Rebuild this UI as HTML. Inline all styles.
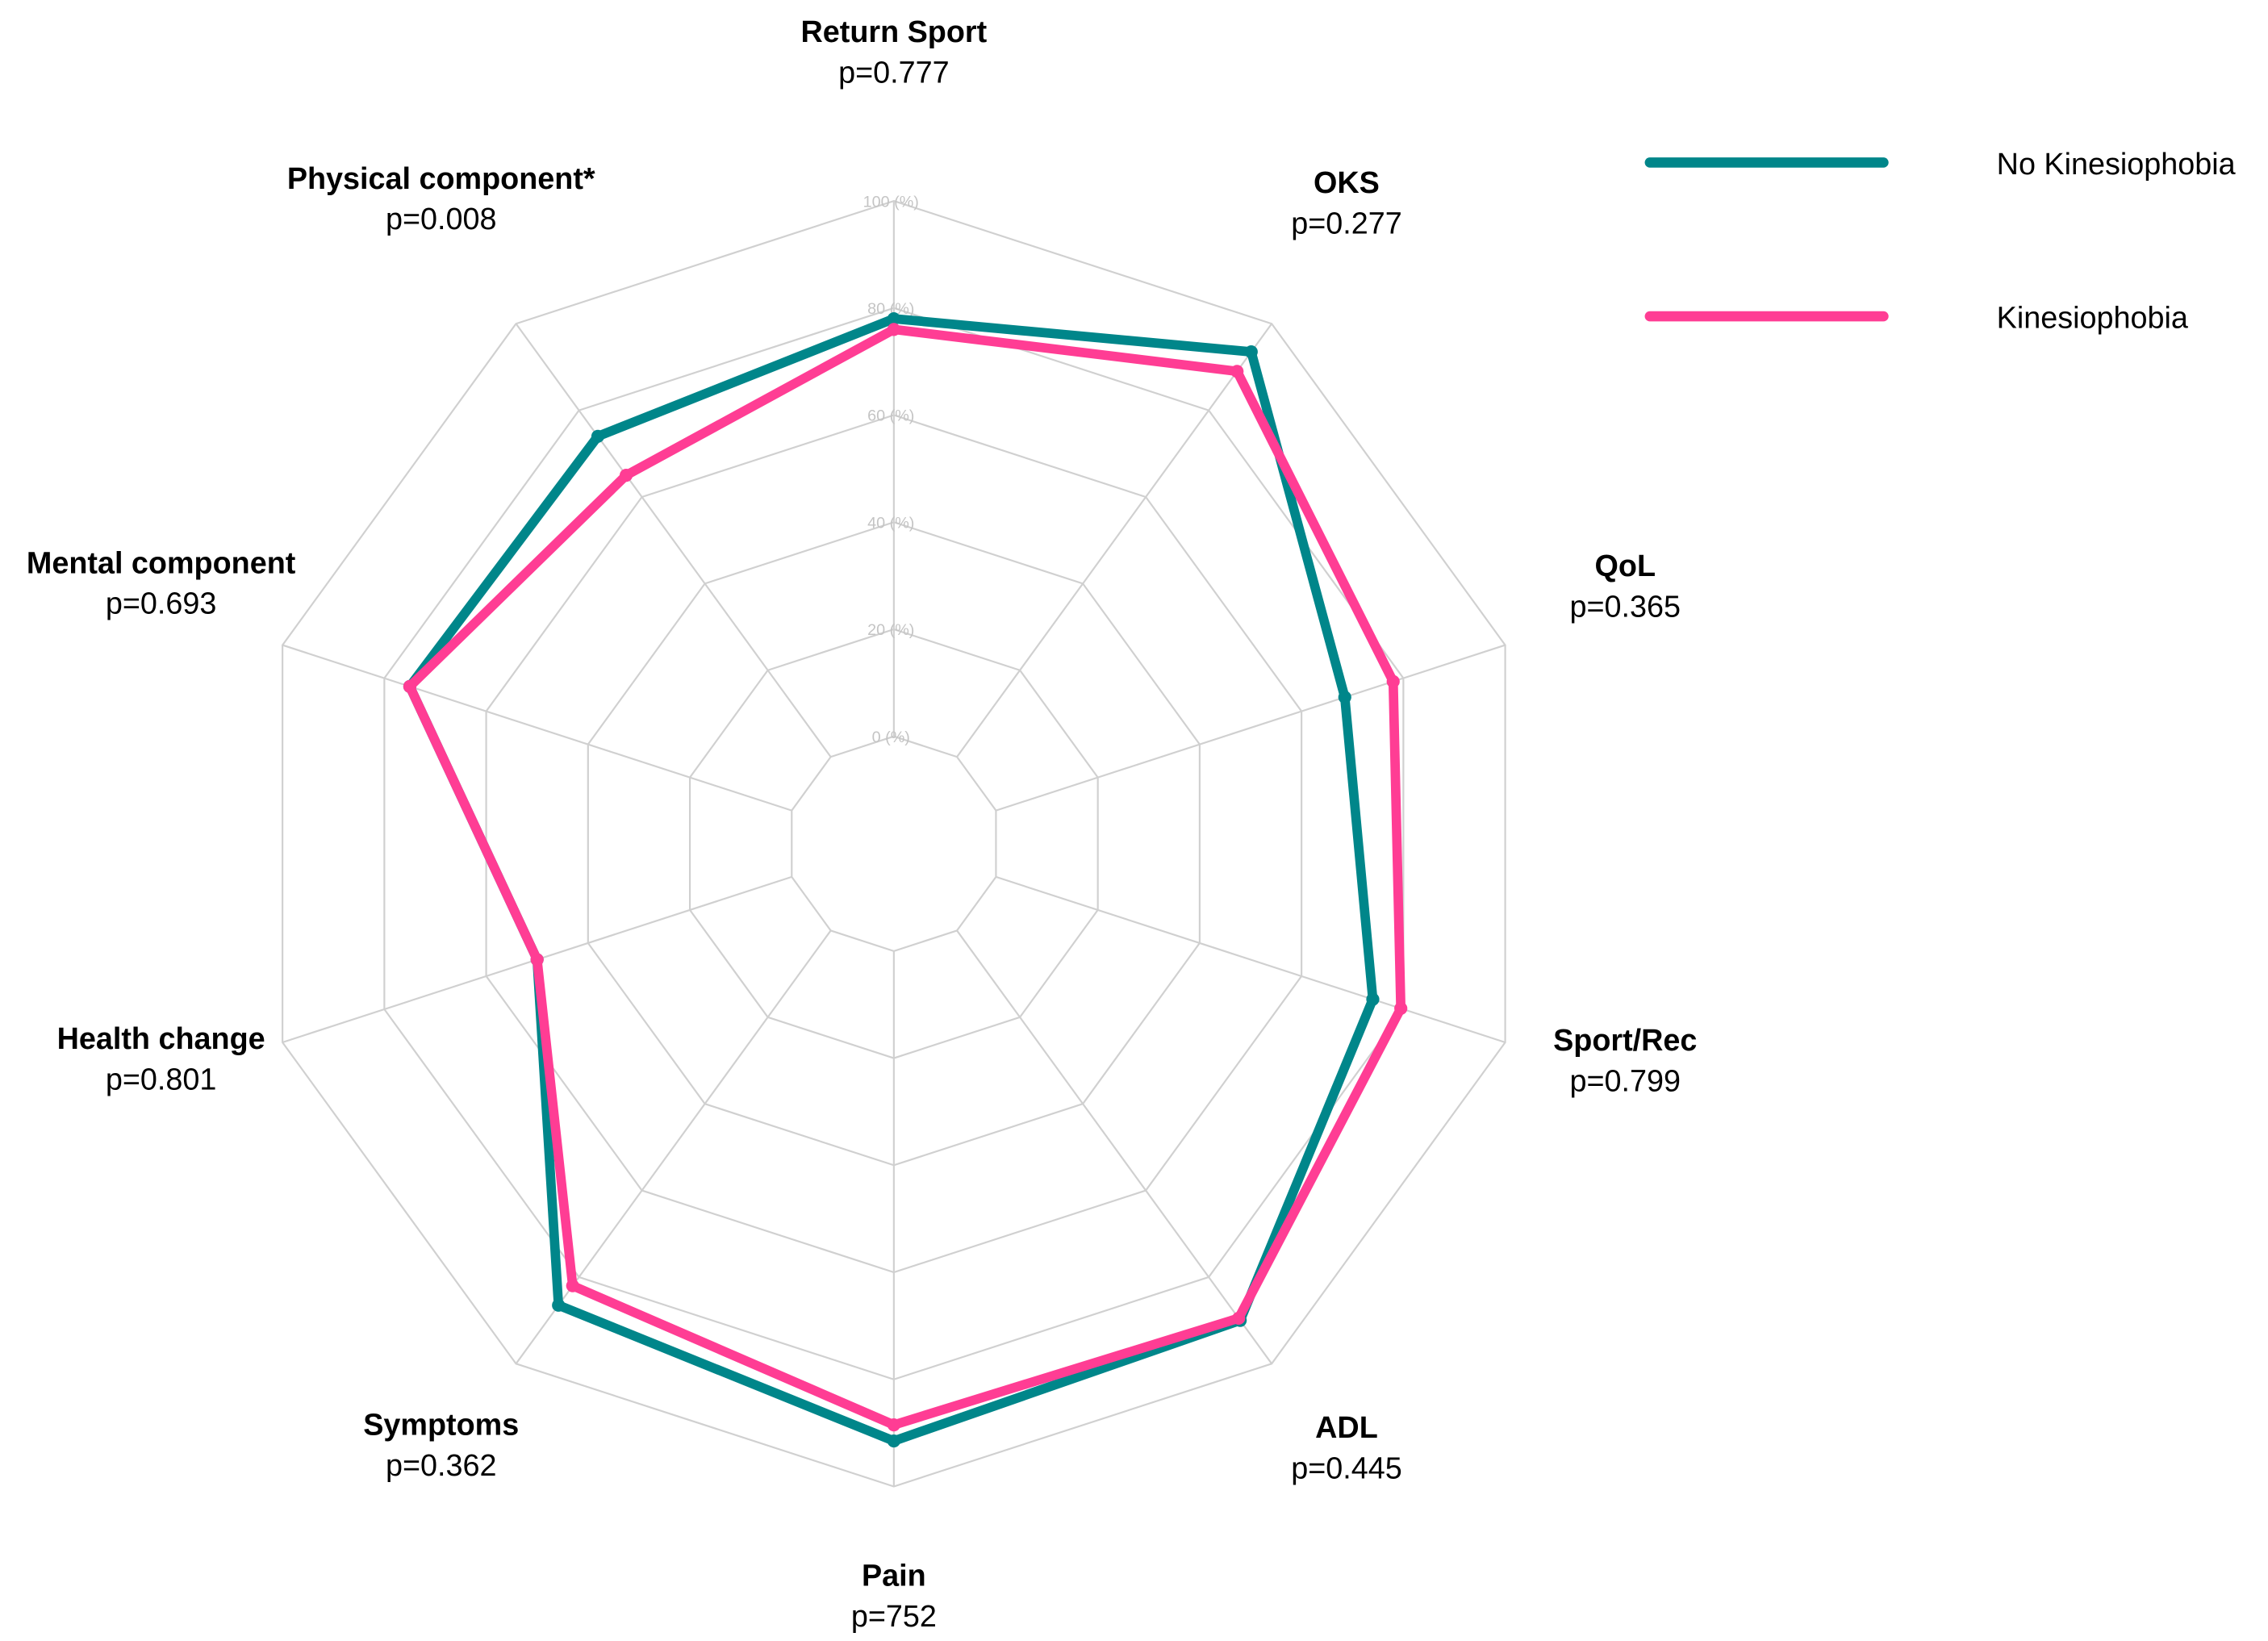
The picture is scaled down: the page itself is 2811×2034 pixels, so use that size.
<!DOCTYPE html>
<html><head><meta charset="utf-8"><style>
html,body{margin:0;padding:0;background:#fff}
svg{display:block}
text{font-family:"Liberation Sans",Arial,sans-serif}
</style></head><body>
<svg id="chart" width="2811" height="2034" viewBox="0 0 1563 1131" preserveAspectRatio="none" xmlns="http://www.w3.org/2000/svg">
<g id="grid"></g>
<g id="ticks"></g>
<g id="series"></g>
<g id="labels"></g>
<g>
<line x1="1137" y1="112" x2="1298" y2="112" stroke="#00868a" stroke-width="7" stroke-linecap="round"/>
<text x="1376" y="120" font-size="21">No Kinesiophobia</text>
<line x1="1137" y1="218" x2="1298" y2="218" stroke="#ff3d94" stroke-width="7" stroke-linecap="round"/>
<text x="1376" y="226" font-size="21">Kinesiophobia</text>
</g>
</svg>
<script>
const categories=["Return Sport","OKS","QoL","Sport/Rec","ADL","Pain","Symptoms","Health change","Mental component","Physical component*"];
const pvalues=["p=0.777","p=0.277","p=0.365","p=0.799","p=0.445","p=752","p=0.362","p=0.801","p=0.693","p=0.008"];
const noKinesiophobia=[78,93.5,68.5,74,90,91.5,86.5,50,75,74];
const kinesiophobia=[76,89,78,79.5,89.5,88.5,82,50,75,65];
const tickValues=[0,20,40,60,80,100];
const tickLabels=["0 (%)","20 (%)","40 (%)","60 (%)","80 (%)","100 (%)"];

const NS="http://www.w3.org/2000/svg";
const cx=616,cy=581.5,r0=74,r100=443;
const rScale=v=>r0+v*(r100-r0)/100;
const ang=i=>i*2*Math.PI/categories.length;
const pt=(i,v)=>{const r=rScale(v);return [cx+r*Math.sin(ang(i)),cy-r*Math.cos(ang(i))];};
function mk(tag,attrs,parent){const e=document.createElementNS(NS,tag);for(const k in attrs)e.setAttribute(k,attrs[k]);parent.appendChild(e);return e;}
const grid=document.getElementById('grid');
tickValues.forEach((t,j)=>{
  const p=mk('polygon',{points:categories.map((c,i)=>pt(i,t).join(',')).join(' '),fill:'none',stroke:'#d0d0d0','stroke-width':1.2},grid);
  
  
});
categories.forEach((c,i)=>{
  const a=pt(i,0),b=pt(i,100);
  const l=mk('line',{x1:a[0],y1:a[1],x2:b[0],y2:b[1],stroke:'#d0d0d0','stroke-width':1.2},grid);
  
  
});
const ticks=document.getElementById('ticks');
tickValues.forEach((t,j)=>{
  const p=pt(0,t);
  const e=mk('text',{x:p[0]-2,y:p[1]+4,'font-size':11,fill:'#c4c4c4','text-anchor':'middle'},ticks);
  e.textContent=tickLabels[j];
  
  
});
const series=document.getElementById('series');
[[noKinesiophobia,'#00868a','no-kinesiophobia'],[kinesiophobia,'#ff3d94','kinesiophobia']].forEach(([vals,col,nm])=>{
  const pts=vals.map((v,i)=>pt(i,v));
  const pg=mk('polygon',{points:pts.map(p=>p.join(',')).join(' '),fill:'none',stroke:col,'stroke-width':6.5,'stroke-linejoin':'round'},series);
  
  
  pts.forEach(p=>{
    const c=mk('circle',{cx:p[0],cy:p[1],r:4.5,fill:col},series);
    
    
  });
});
const labelPos=[[616,22],[928,126],[1120,390],[1120,717],[928,984],[616,1086],[304,982],[111,716],[111,388],[304,123]];
const labels=document.getElementById('labels');
categories.forEach((c,i)=>{
  const [x,y]=labelPos[i];
  const t=mk('text',{x:x,y:y+7,'font-size':21,'font-weight':'bold','text-anchor':'middle'},labels);
  t.textContent=c;
  
  
  const p=mk('text',{x:x,y:y+35,'font-size':21,'text-anchor':'middle'},labels);
  p.textContent=pvalues[i];
  
  
});
</script>
</body></html>
